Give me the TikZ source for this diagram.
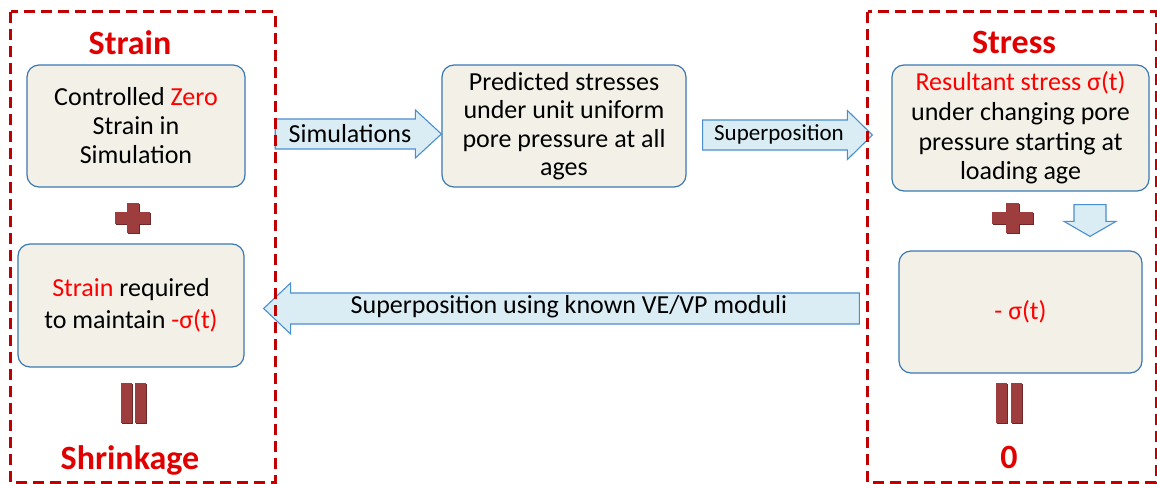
\documentclass[tikz,border=0pt]{standalone}
\usepackage{fontspec}
\setmainfont{Carlito}
\usetikzlibrary{calc}
\definecolor{framered}{HTML}{C00000}
\definecolor{txtred}{HTML}{FF0000}
\definecolor{titlered}{HTML}{E00000}
\definecolor{boxfill}{HTML}{F3F1E7}
\definecolor{boxline}{HTML}{3A78B2}
\definecolor{arrfill}{HTML}{DAEDF4}
\definecolor{arrline}{HTML}{4A8FD0}
\definecolor{plusred}{HTML}{9E3D3D}
\definecolor{plusshade}{HTML}{6A2828}
\begin{document}
\begin{tikzpicture}[x=1pt,y=-1pt,
 frame/.style={draw=framered, line width=3.3pt, dash pattern=on 11pt off 6pt},
 box/.style={draw=boxline, fill=boxfill, line width=1.2pt, rounded corners=12pt, align=center, font=\fontsize{26}{29}\selectfont, inner sep=0pt},
 title/.style={text=titlered, font=\fontsize{34}{36}\selectfont\bfseries, anchor=base, inner sep=0pt},
 blk/.style={draw=arrline, fill=arrfill, line width=1.1pt, line join=miter},
 sym/.style={fill=plusred},
 symshade/.style={fill=plusshade},
 lbl/.style={font=\fontsize{26}{29}\selectfont, inner sep=0pt}
]
\useasboundingbox (0,0) rectangle (1157,484);
% frames (placeholders, drawn at the end)
\node[minimum width=264, minimum height=470, inner sep=0pt] (lf) at (143,247) {};
\node[minimum width=288, minimum height=470, inner sep=0pt] (rf) at (1012,247) {};

% titles
\node[title] (tstrain) at (130,55) {Strain};
\node[title] (tstress) at (1014,54) {Stress};
\node[title] (tshrink) at (130,469) {Shrinkage};
\node[title] (tzero) at (1009,468) {0};

% boxes
\node[box, minimum width=218, minimum height=122] (zero) at (136,126) {Controlled \textcolor{txtred}{Zero}\\Strain in\\Simulation};
\node[box, minimum width=226, minimum height=123] (req) at (131,305.5) {\textcolor{txtred}{Strain} required\\[3.5pt]to maintain \textcolor{txtred}{-σ(t)}};
\node[box, minimum width=244, minimum height=122, font=\fontsize{26}{28.5}\selectfont] (pred) at (564,126) {Predicted stresses\\under unit uniform\\pore pressure at all\\ages};
\node[box, minimum width=257, minimum height=126, font=\fontsize{26}{29.7}\selectfont] (res) at (1020.5,128) {\textcolor{txtred}{Resultant stress σ(t)}\\under changing pore\\pressure starting at\\loading age};
\node[box, minimum width=243, minimum height=122] (neg) at (1020.5,312) {\textcolor{txtred}{- σ(t)}};

% block arrows
\draw[blk] let \p1=(lf.east), \p2=(pred.west) in
  (\x1,119) -- (\x2-26,119) -- (\x2-26,110) -- (\x2,134) -- (\x2-26,158) -- (\x2-26,149) -- (\x1,149) -- cycle;
\node[lbl] (lsim) at (350,134) {Simulations};

\draw[blk] let \p1=(pred.east), \p2=(res.west) in
  (\x1+16,120) -- (\x2-44,120) -- (\x2-44,110.5) -- (\x2-19,135) -- (\x2-44,159.5) -- (\x2-44,150) -- (\x1+16,150) -- cycle;
\node[lbl, font=\fontsize{23}{26}\selectfont] (lsup) at (779,134) {Superposition};

\draw[blk] let \p1=(req.east), \p2=(neg.west) in
  (\x2-39,293) -- (\x1+46,293) -- (\x1+46,283) -- (\x1+19,308.5) -- (\x1+46,334) -- (\x1+46,324) -- (\x2-39,324) -- cycle;
\node[lbl] (lsupk) at (569,307) {Superposition using known VE/VP moduli};

\draw[blk] let \p1=(res.south), \p2=(neg.north) in
  (1074,\y1-13) -- (1106,\y1-13) -- (1106,\y2+29) -- (1116,\y2+29) -- (1090,\y2+14) -- (1064,\y2+29) -- (1074,\y2+29) -- cycle;

% plus signs
\fill[symshade] (116,213) rectangle (151,225);
\fill[symshade] (127.5,204) rectangle (139.5,234);
\fill[sym] (115,212) rectangle (150,224);
\fill[sym] (126.5,203) rectangle (138.5,233);
\fill[symshade] (993,213) rectangle (1034,225);
\fill[symshade] (1007,204) rectangle (1020,234);
\fill[sym] (992,212) rectangle (1033,224);
\fill[sym] (1006,203) rectangle (1019,233);

% equals signs (vertical)
\fill[symshade] (122,384) rectangle (133,424);
\fill[symshade] (135.5,384) rectangle (146.5,424);
\fill[sym] (121,383) rectangle (132,423);
\fill[sym] (134.5,383) rectangle (145.5,423);
\fill[symshade] (997,384) rectangle (1008,424);
\fill[symshade] (1012,384) rectangle (1023,424);
\fill[sym] (996,383) rectangle (1007,423);
\fill[sym] (1011,383) rectangle (1022,423);

% frames on top
\draw[frame] (lf.north west) rectangle (lf.south east);
\draw[frame] (rf.north west) rectangle (rf.south east);
\end{tikzpicture}
\end{document}
